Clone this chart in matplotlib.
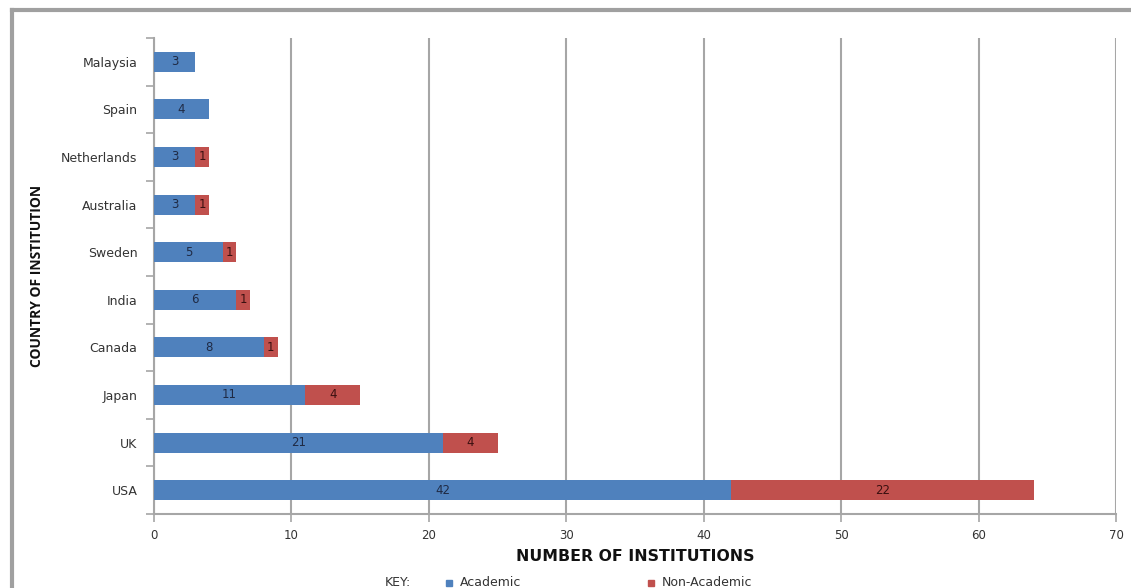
import matplotlib
matplotlib.use("Agg")
import matplotlib.pyplot as plt
from matplotlib.lines import Line2D
from matplotlib.patches import Rectangle

countries = ["USA", "UK", "Japan", "Canada", "India", "Sweden", "Australia", "Netherlands", "Spain", "Malaysia"]
academic = [42, 21, 11, 8, 6, 5, 3, 3, 4, 3]
non_academic = [22, 4, 4, 1, 1, 1, 1, 1, 0, 0]
xticks = [0, 10, 20, 30, 40, 50, 60, 70]

blue = "#4F81BD"
red = "#C0504D"
grid_c = "#A6A6A6"
font = "DejaVu Sans"

fig = plt.figure(figsize=(11.31, 5.88), dpi=100)
ax = fig.add_axes([154/1131, 74/588, 962/1131, 476/588])

y = list(range(len(countries)))
ax.barh(y, academic, height=0.42, color=blue, zorder=3)
ax.barh(y, non_academic, left=academic, height=0.42, color=red, zorder=3)

for i in y:
    a = academic[i]
    n = non_academic[i]
    ax.text(a/2, i, str(a), ha="center", va="center", fontsize=8.5, color="#1F2A44",
            family=font, zorder=4)
    if n > 0:
        ax.text(a + n/2, i, str(n), ha="center", va="center", fontsize=8.5, color="#3A1010",
                family=font, zorder=4)

ax.set_xlim(0, 70)
ax.set_ylim(-0.5, len(countries) - 0.5)
ax.set_xticks(xticks)
ax.set_xticklabels([str(t) for t in xticks], family=font, fontsize=8.5, color="#333333")
ax.set_yticks(y)
ax.set_yticklabels(countries, family=font, fontsize=9, color="#333333")
ax.tick_params(axis="y", length=0, pad=12)
ax.tick_params(axis="x", length=6, width=1.2, color=grid_c, pad=5, direction="out")
ax.set_yticks([i + 0.5 for i in range(-1, len(countries))], minor=True)
ax.tick_params(axis="y", which="minor", length=6, width=1.2, color=grid_c)

ax.grid(axis="x", color=grid_c, linewidth=1.5, zorder=0)
for s in ["top", "right"]:
    ax.spines[s].set_visible(False)
for s in ["left", "bottom"]:
    ax.spines[s].set_color(grid_c)
    ax.spines[s].set_linewidth(1.5)

ax.set_xlabel("NUMBER OF INSTITUTIONS", family=font, fontsize=11.3, fontweight="bold",
              color="#111111", labelpad=5)
ax.set_ylabel("COUNTRY OF INSTITUTION", family="Open Sans", fontsize=10, fontweight="bold",
              color="#111111", labelpad=12)

# legend row (partially cut off at bottom)
fig.text(385/1131, 1 - 583/588, "KEY:", family=font, fontsize=9, color="#333333", va="center")
fig.patches.append(Rectangle((446/1131, 1 - 586/588), 6/1131, 6/588, color=blue,
                             transform=fig.transFigure, figure=fig))
fig.text(460/1131, 1 - 583/588, "Academic", family=font, fontsize=9, color="#333333", va="center")
fig.patches.append(Rectangle((648/1131, 1 - 586/588), 6/1131, 6/588, color=red,
                             transform=fig.transFigure, figure=fig))
fig.text(662/1131, 1 - 583/588, "Non-Academic", family=font, fontsize=9, color="#333333", va="center")

# outer frame (left and top edges visible)
fig.lines.append(Line2D([12/1131, 12/1131], [0, 1 - 10/588], color="#A0A0A0", linewidth=3,
                        transform=fig.transFigure, figure=fig))
fig.lines.append(Line2D([12/1131, 1], [1 - 10/588, 1 - 10/588], color="#A0A0A0", linewidth=3,
                        transform=fig.transFigure, figure=fig))

fig.savefig("out.png", dpi=100)
